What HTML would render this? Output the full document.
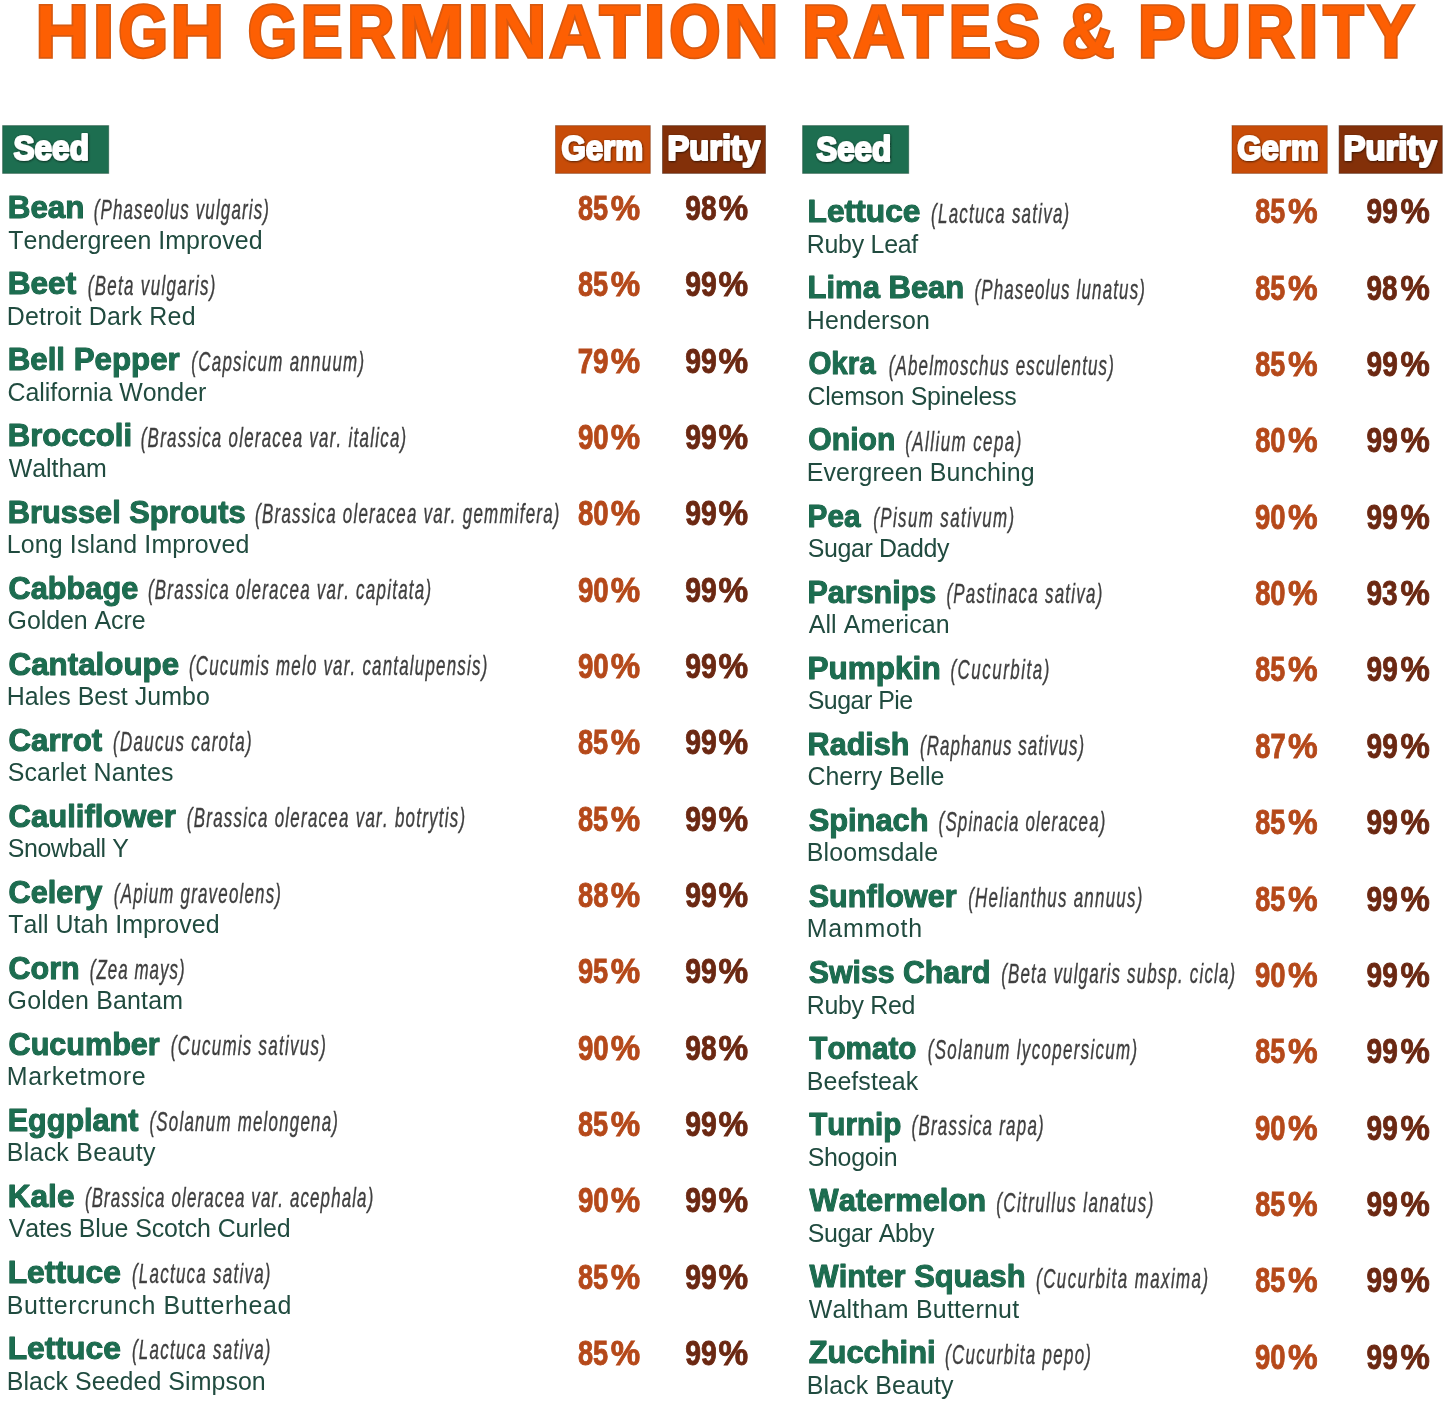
<!DOCTYPE html>
<html><head><meta charset="utf-8"><title>High Germination Rates &amp; Purity</title>
<style>
html,body{margin:0;padding:0;background:#fff;}
body{width:1445px;height:1401px;overflow:hidden;}
svg{display:block;}
text{font-family:"Liberation Sans",sans-serif;font-kerning:none;}
.b{font-weight:700;}
.i{font-style:italic;fill:#3f3f3f;stroke:#3f3f3f;stroke-width:0.40px;}
.r{font-weight:400;}
.t{fill:#fd5f03;stroke:#d9590f;stroke-width:3.50px;stroke-linejoin:miter;paint-order:stroke;}
.n{fill:#1c6d50;stroke:#145a40;stroke-width:1.00px;paint-order:stroke;stroke-linejoin:round;}
.v{fill:#204b3f;}
.h{fill:#fff;stroke:#fff;stroke-width:2.20px;stroke-linejoin:round;filter:url(#sh);}
.g{fill:#b5491a;stroke:#b5491a;stroke-width:0.90px;}
.p{fill:#6b2812;stroke:#6b2812;stroke-width:0.90px;}
</style></head><body>
<svg width="1445" height="1401" viewBox="0 0 1445 1401">
<defs><filter id="sh" x="-10%" y="-20%" width="120%" height="150%"><feDropShadow dx="0.5" dy="0.7" stdDeviation="0.8" flood-color="#000" flood-opacity="0.7"/></filter></defs>
<rect width="1445" height="1401" fill="#ffffff"/>
<text y="56.65" class="b t" style="font-size:75.00px"><tspan x="35.50" textLength="53.44" lengthAdjust="spacingAndGlyphs">H</tspan><tspan x="92.65" textLength="21.60" lengthAdjust="spacingAndGlyphs">I</tspan><tspan x="118.22" textLength="49.80" lengthAdjust="spacingAndGlyphs">G</tspan><tspan x="170.39" textLength="53.56" lengthAdjust="spacingAndGlyphs">H</tspan> <tspan x="247.85" textLength="49.33" lengthAdjust="spacingAndGlyphs">G</tspan><tspan x="300.66" textLength="41.73" lengthAdjust="spacingAndGlyphs">E</tspan><tspan x="347.29" textLength="47.10" lengthAdjust="spacingAndGlyphs">R</tspan><tspan x="399.09" textLength="65.52" lengthAdjust="spacingAndGlyphs">M</tspan><tspan x="467.55" textLength="21.60" lengthAdjust="spacingAndGlyphs">I</tspan><tspan x="492.34" textLength="54.05" lengthAdjust="spacingAndGlyphs">N</tspan><tspan x="549.19" textLength="51.13" lengthAdjust="spacingAndGlyphs">A</tspan><tspan x="599.51" textLength="40.35" lengthAdjust="spacingAndGlyphs">T</tspan><tspan x="643.41" textLength="22.18" lengthAdjust="spacingAndGlyphs">I</tspan><tspan x="669.35" textLength="51.27" lengthAdjust="spacingAndGlyphs">O</tspan><tspan x="723.98" textLength="54.79" lengthAdjust="spacingAndGlyphs">N</tspan> <tspan x="802.14" textLength="47.56" lengthAdjust="spacingAndGlyphs">R</tspan><tspan x="853.61" textLength="50.59" lengthAdjust="spacingAndGlyphs">A</tspan><tspan x="902.71" textLength="40.14" lengthAdjust="spacingAndGlyphs">T</tspan><tspan x="948.72" textLength="42.20" lengthAdjust="spacingAndGlyphs">E</tspan><tspan x="994.78" textLength="45.64" lengthAdjust="spacingAndGlyphs">S</tspan> <tspan x="1061.74" textLength="52.69" lengthAdjust="spacingAndGlyphs">&amp;</tspan> <tspan x="1137.65" textLength="47.85" lengthAdjust="spacingAndGlyphs">P</tspan><tspan x="1189.03" textLength="51.90" lengthAdjust="spacingAndGlyphs">U</tspan><tspan x="1245.98" textLength="48.24" lengthAdjust="spacingAndGlyphs">R</tspan><tspan x="1298.47" textLength="19.87" lengthAdjust="spacingAndGlyphs">I</tspan><tspan x="1323.21" textLength="40.35" lengthAdjust="spacingAndGlyphs">T</tspan><tspan x="1367.76" textLength="46.41" lengthAdjust="spacingAndGlyphs">Y</tspan></text>
<rect x="2.6" y="125.6" width="106.1" height="47.8" fill="#1d6e50" stroke="#0e3d2b" stroke-opacity="0.45" stroke-width="1"/>
<rect x="555.5" y="125.6" width="94.8" height="47.8" fill="#c84c08" stroke="#6a2a08" stroke-opacity="0.45" stroke-width="1"/>
<rect x="662.5" y="125.6" width="103.0" height="47.8" fill="#833009" stroke="#3a1405" stroke-opacity="0.45" stroke-width="1"/>
<rect x="802.6" y="125.6" width="106.1" height="47.8" fill="#1d6e50" stroke="#0e3d2b" stroke-opacity="0.45" stroke-width="1"/>
<rect x="1232.0" y="125.6" width="95.3" height="47.8" fill="#c84c08" stroke="#6a2a08" stroke-opacity="0.45" stroke-width="1"/>
<rect x="1339.1" y="125.6" width="103.2" height="47.8" fill="#833009" stroke="#3a1405" stroke-opacity="0.45" stroke-width="1"/>
<text x="13.49" y="160.40" textLength="75.49" lengthAdjust="spacingAndGlyphs" class="b h" style="font-size:34.30px;">Seed</text>
<text x="561.42" y="159.70" textLength="81.62" lengthAdjust="spacingAndGlyphs" class="b h" style="font-size:34.30px;">Germ</text>
<text x="667.62" y="159.70" textLength="92.46" lengthAdjust="spacingAndGlyphs" class="b h" style="font-size:34.30px;">Purity</text>
<text x="816.20" y="160.60" textLength="75.08" lengthAdjust="spacingAndGlyphs" class="b h" style="font-size:34.30px;">Seed</text>
<text x="1237.22" y="159.90" textLength="81.41" lengthAdjust="spacingAndGlyphs" class="b h" style="font-size:34.30px;">Germ</text>
<text x="1343.50" y="159.90" textLength="93.18" lengthAdjust="spacingAndGlyphs" class="b h" style="font-size:34.30px;">Purity</text>
<text x="7.70" y="218.30" textLength="76.85" lengthAdjust="spacingAndGlyphs" class="b n" style="font-size:31.80px;">Bean</text>
<text x="93.71" y="218.60" textLength="176.35" lengthAdjust="spacingAndGlyphs" class="i" style="font-size:27.30px;letter-spacing:1.856px">(Phaseolus vulgaris)</text>
<text x="8.24" y="248.80" textLength="254.30" lengthAdjust="spacingAndGlyphs" class="r v" style="font-size:25.70px;letter-spacing:0.037px">Tendergreen Improved</text>
<text y="219.95" class="b g" style="font-size:35.00px"><tspan x="577.99" textLength="30.22" lengthAdjust="spacingAndGlyphs">85</tspan><tspan x="610.73" textLength="29.39" lengthAdjust="spacingAndGlyphs">%</tspan></text>
<text y="219.95" class="b p" style="font-size:35.00px"><tspan x="685.28" textLength="31.24" lengthAdjust="spacingAndGlyphs">98</tspan><tspan x="718.62" textLength="29.61" lengthAdjust="spacingAndGlyphs">%</tspan></text>
<text x="7.69" y="294.35" textLength="68.50" lengthAdjust="spacingAndGlyphs" class="b n" style="font-size:31.80px;">Beet</text>
<text x="87.71" y="294.65" textLength="129.14" lengthAdjust="spacingAndGlyphs" class="i" style="font-size:27.30px;letter-spacing:2.152px">(Beta vulgaris)</text>
<text x="6.76" y="324.85" textLength="188.96" lengthAdjust="spacingAndGlyphs" class="r v" style="font-size:25.70px;letter-spacing:0.214px">Detroit Dark Red</text>
<text y="296.29" class="b g" style="font-size:35.00px"><tspan x="577.99" textLength="30.22" lengthAdjust="spacingAndGlyphs">85</tspan><tspan x="610.73" textLength="29.39" lengthAdjust="spacingAndGlyphs">%</tspan></text>
<text y="296.29" class="b p" style="font-size:35.00px"><tspan x="685.27" textLength="31.43" lengthAdjust="spacingAndGlyphs">99</tspan><tspan x="718.62" textLength="29.61" lengthAdjust="spacingAndGlyphs">%</tspan></text>
<text x="7.71" y="370.40" textLength="172.07" lengthAdjust="spacingAndGlyphs" class="b n" style="font-size:31.80px;">Bell Pepper</text>
<text x="191.31" y="370.70" textLength="174.08" lengthAdjust="spacingAndGlyphs" class="i" style="font-size:27.30px;letter-spacing:2.057px">(Capsicum annuum)</text>
<text x="7.53" y="400.90" textLength="198.73" lengthAdjust="spacingAndGlyphs" class="r v" style="font-size:25.70px;letter-spacing:-0.048px">California Wonder</text>
<text y="372.63" class="b g" style="font-size:35.00px"><tspan x="577.66" textLength="30.82" lengthAdjust="spacingAndGlyphs">79</tspan><tspan x="610.73" textLength="29.39" lengthAdjust="spacingAndGlyphs">%</tspan></text>
<text y="372.63" class="b p" style="font-size:35.00px"><tspan x="685.27" textLength="31.43" lengthAdjust="spacingAndGlyphs">99</tspan><tspan x="718.62" textLength="29.61" lengthAdjust="spacingAndGlyphs">%</tspan></text>
<text x="7.72" y="446.45" textLength="124.38" lengthAdjust="spacingAndGlyphs" class="b n" style="font-size:31.80px;">Broccoli</text>
<text x="140.71" y="446.75" textLength="266.75" lengthAdjust="spacingAndGlyphs" class="i" style="font-size:27.30px;letter-spacing:2.019px">(Brassica oleracea var. italica)</text>
<text x="8.69" y="476.95" textLength="98.12" lengthAdjust="spacingAndGlyphs" class="r v" style="font-size:25.70px;letter-spacing:-0.034px">Waltham</text>
<text y="448.97" class="b g" style="font-size:35.00px"><tspan x="577.89" textLength="30.69" lengthAdjust="spacingAndGlyphs">90</tspan><tspan x="610.73" textLength="29.39" lengthAdjust="spacingAndGlyphs">%</tspan></text>
<text y="448.97" class="b p" style="font-size:35.00px"><tspan x="685.27" textLength="31.43" lengthAdjust="spacingAndGlyphs">99</tspan><tspan x="718.62" textLength="29.61" lengthAdjust="spacingAndGlyphs">%</tspan></text>
<text x="7.74" y="522.50" textLength="237.82" lengthAdjust="spacingAndGlyphs" class="b n" style="font-size:31.80px;">Brussel Sprouts</text>
<text x="255.11" y="522.80" textLength="305.64" lengthAdjust="spacingAndGlyphs" class="i" style="font-size:27.30px;letter-spacing:2.005px">(Brassica oleracea var. gemmifera)</text>
<text x="6.76" y="553.00" textLength="242.70" lengthAdjust="spacingAndGlyphs" class="r v" style="font-size:25.70px;letter-spacing:0.152px">Long Island Improved</text>
<text y="525.31" class="b g" style="font-size:35.00px"><tspan x="577.98" textLength="30.60" lengthAdjust="spacingAndGlyphs">80</tspan><tspan x="610.73" textLength="29.39" lengthAdjust="spacingAndGlyphs">%</tspan></text>
<text y="525.31" class="b p" style="font-size:35.00px"><tspan x="685.27" textLength="31.43" lengthAdjust="spacingAndGlyphs">99</tspan><tspan x="718.62" textLength="29.61" lengthAdjust="spacingAndGlyphs">%</tspan></text>
<text x="8.54" y="598.55" textLength="129.71" lengthAdjust="spacingAndGlyphs" class="b n" style="font-size:31.80px;">Cabbage</text>
<text x="147.91" y="598.85" textLength="284.47" lengthAdjust="spacingAndGlyphs" class="i" style="font-size:27.30px;letter-spacing:2.041px">(Brassica oleracea var. capitata)</text>
<text x="7.55" y="629.05" textLength="138.01" lengthAdjust="spacingAndGlyphs" class="r v" style="font-size:25.70px;letter-spacing:-0.052px">Golden Acre</text>
<text y="601.65" class="b g" style="font-size:35.00px"><tspan x="577.89" textLength="30.69" lengthAdjust="spacingAndGlyphs">90</tspan><tspan x="610.73" textLength="29.39" lengthAdjust="spacingAndGlyphs">%</tspan></text>
<text y="601.65" class="b p" style="font-size:35.00px"><tspan x="685.27" textLength="31.43" lengthAdjust="spacingAndGlyphs">99</tspan><tspan x="718.62" textLength="29.61" lengthAdjust="spacingAndGlyphs">%</tspan></text>
<text x="8.51" y="674.60" textLength="170.66" lengthAdjust="spacingAndGlyphs" class="b n" style="font-size:31.80px;">Cantaloupe</text>
<text x="188.91" y="674.90" textLength="299.61" lengthAdjust="spacingAndGlyphs" class="i" style="font-size:27.30px;letter-spacing:1.954px">(Cucumis melo var. cantalupensis)</text>
<text x="6.76" y="705.10" textLength="203.04" lengthAdjust="spacingAndGlyphs" class="r v" style="font-size:25.70px;letter-spacing:0.048px">Hales Best Jumbo</text>
<text y="677.99" class="b g" style="font-size:35.00px"><tspan x="577.89" textLength="30.69" lengthAdjust="spacingAndGlyphs">90</tspan><tspan x="610.73" textLength="29.39" lengthAdjust="spacingAndGlyphs">%</tspan></text>
<text y="677.99" class="b p" style="font-size:35.00px"><tspan x="685.27" textLength="31.43" lengthAdjust="spacingAndGlyphs">99</tspan><tspan x="718.62" textLength="29.61" lengthAdjust="spacingAndGlyphs">%</tspan></text>
<text x="8.52" y="750.65" textLength="93.76" lengthAdjust="spacingAndGlyphs" class="b n" style="font-size:31.80px;">Carrot</text>
<text x="113.01" y="750.95" textLength="140.01" lengthAdjust="spacingAndGlyphs" class="i" style="font-size:27.30px;letter-spacing:2.108px">(Daucus carota)</text>
<text x="7.67" y="781.15" textLength="166.01" lengthAdjust="spacingAndGlyphs" class="r v" style="font-size:25.70px;letter-spacing:0.185px">Scarlet Nantes</text>
<text y="754.33" class="b g" style="font-size:35.00px"><tspan x="577.99" textLength="30.22" lengthAdjust="spacingAndGlyphs">85</tspan><tspan x="610.73" textLength="29.39" lengthAdjust="spacingAndGlyphs">%</tspan></text>
<text y="754.33" class="b p" style="font-size:35.00px"><tspan x="685.27" textLength="31.43" lengthAdjust="spacingAndGlyphs">99</tspan><tspan x="718.62" textLength="29.61" lengthAdjust="spacingAndGlyphs">%</tspan></text>
<text x="8.53" y="826.70" textLength="167.24" lengthAdjust="spacingAndGlyphs" class="b n" style="font-size:31.80px;">Cauliflower</text>
<text x="186.81" y="827.00" textLength="279.66" lengthAdjust="spacingAndGlyphs" class="i" style="font-size:27.30px;letter-spacing:2.037px">(Brassica oleracea var. botrytis)</text>
<text x="7.67" y="857.20" textLength="120.90" lengthAdjust="spacingAndGlyphs" class="r v" style="font-size:25.70px;letter-spacing:-0.394px">Snowball Y</text>
<text y="830.67" class="b g" style="font-size:35.00px"><tspan x="577.99" textLength="30.22" lengthAdjust="spacingAndGlyphs">85</tspan><tspan x="610.73" textLength="29.39" lengthAdjust="spacingAndGlyphs">%</tspan></text>
<text y="830.67" class="b p" style="font-size:35.00px"><tspan x="685.27" textLength="31.43" lengthAdjust="spacingAndGlyphs">99</tspan><tspan x="718.62" textLength="29.61" lengthAdjust="spacingAndGlyphs">%</tspan></text>
<text x="8.54" y="902.75" textLength="93.92" lengthAdjust="spacingAndGlyphs" class="b n" style="font-size:31.80px;">Celery</text>
<text x="113.81" y="903.05" textLength="168.40" lengthAdjust="spacingAndGlyphs" class="i" style="font-size:27.30px;letter-spacing:1.940px">(Apium graveolens)</text>
<text x="8.24" y="933.25" textLength="211.31" lengthAdjust="spacingAndGlyphs" class="r v" style="font-size:25.70px;letter-spacing:0.041px">Tall Utah Improved</text>
<text y="907.01" class="b g" style="font-size:35.00px"><tspan x="577.99" textLength="30.30" lengthAdjust="spacingAndGlyphs">88</tspan><tspan x="610.73" textLength="29.39" lengthAdjust="spacingAndGlyphs">%</tspan></text>
<text y="907.01" class="b p" style="font-size:35.00px"><tspan x="685.27" textLength="31.43" lengthAdjust="spacingAndGlyphs">99</tspan><tspan x="718.62" textLength="29.61" lengthAdjust="spacingAndGlyphs">%</tspan></text>
<text x="8.55" y="978.80" textLength="71.14" lengthAdjust="spacingAndGlyphs" class="b n" style="font-size:31.80px;">Corn</text>
<text x="89.71" y="979.10" textLength="95.94" lengthAdjust="spacingAndGlyphs" class="i" style="font-size:27.30px;letter-spacing:1.670px">(Zea mays)</text>
<text x="7.55" y="1009.30" textLength="175.69" lengthAdjust="spacingAndGlyphs" class="r v" style="font-size:25.70px;letter-spacing:0.195px">Golden Bantam</text>
<text y="983.35" class="b g" style="font-size:35.00px"><tspan x="577.91" textLength="30.30" lengthAdjust="spacingAndGlyphs">95</tspan><tspan x="610.73" textLength="29.39" lengthAdjust="spacingAndGlyphs">%</tspan></text>
<text y="983.35" class="b p" style="font-size:35.00px"><tspan x="685.27" textLength="31.43" lengthAdjust="spacingAndGlyphs">99</tspan><tspan x="718.62" textLength="29.61" lengthAdjust="spacingAndGlyphs">%</tspan></text>
<text x="8.55" y="1054.85" textLength="151.22" lengthAdjust="spacingAndGlyphs" class="b n" style="font-size:31.80px;">Cucumber</text>
<text x="170.81" y="1055.15" textLength="156.39" lengthAdjust="spacingAndGlyphs" class="i" style="font-size:27.30px;letter-spacing:2.078px">(Cucumis sativus)</text>
<text x="6.76" y="1085.35" textLength="139.50" lengthAdjust="spacingAndGlyphs" class="r v" style="font-size:25.70px;letter-spacing:0.672px">Marketmore</text>
<text y="1059.69" class="b g" style="font-size:35.00px"><tspan x="577.89" textLength="30.69" lengthAdjust="spacingAndGlyphs">90</tspan><tspan x="610.73" textLength="29.39" lengthAdjust="spacingAndGlyphs">%</tspan></text>
<text y="1059.69" class="b p" style="font-size:35.00px"><tspan x="685.28" textLength="31.24" lengthAdjust="spacingAndGlyphs">98</tspan><tspan x="718.62" textLength="29.61" lengthAdjust="spacingAndGlyphs">%</tspan></text>
<text x="7.76" y="1130.90" textLength="130.62" lengthAdjust="spacingAndGlyphs" class="b n" style="font-size:31.80px;">Eggplant</text>
<text x="149.51" y="1131.20" textLength="189.72" lengthAdjust="spacingAndGlyphs" class="i" style="font-size:27.30px;letter-spacing:1.969px">(Solanum melongena)</text>
<text x="6.76" y="1161.40" textLength="148.88" lengthAdjust="spacingAndGlyphs" class="r v" style="font-size:25.70px;letter-spacing:0.290px">Black Beauty</text>
<text y="1136.03" class="b g" style="font-size:35.00px"><tspan x="577.99" textLength="30.22" lengthAdjust="spacingAndGlyphs">85</tspan><tspan x="610.73" textLength="29.39" lengthAdjust="spacingAndGlyphs">%</tspan></text>
<text y="1136.03" class="b p" style="font-size:35.00px"><tspan x="685.27" textLength="31.43" lengthAdjust="spacingAndGlyphs">99</tspan><tspan x="718.62" textLength="29.61" lengthAdjust="spacingAndGlyphs">%</tspan></text>
<text x="7.68" y="1206.95" textLength="66.80" lengthAdjust="spacingAndGlyphs" class="b n" style="font-size:31.80px;">Kale</text>
<text x="84.91" y="1207.25" textLength="289.54" lengthAdjust="spacingAndGlyphs" class="i" style="font-size:27.30px;letter-spacing:1.828px">(Brassica oleracea var. acephala)</text>
<text x="8.69" y="1237.45" textLength="281.82" lengthAdjust="spacingAndGlyphs" class="r v" style="font-size:25.70px;letter-spacing:-0.096px">Vates Blue Scotch Curled</text>
<text y="1212.37" class="b g" style="font-size:35.00px"><tspan x="577.89" textLength="30.69" lengthAdjust="spacingAndGlyphs">90</tspan><tspan x="610.73" textLength="29.39" lengthAdjust="spacingAndGlyphs">%</tspan></text>
<text y="1212.37" class="b p" style="font-size:35.00px"><tspan x="685.27" textLength="31.43" lengthAdjust="spacingAndGlyphs">99</tspan><tspan x="718.62" textLength="29.61" lengthAdjust="spacingAndGlyphs">%</tspan></text>
<text x="7.67" y="1283.00" textLength="113.32" lengthAdjust="spacingAndGlyphs" class="b n" style="font-size:31.80px;">Lettuce</text>
<text x="131.91" y="1283.30" textLength="139.88" lengthAdjust="spacingAndGlyphs" class="i" style="font-size:27.30px;letter-spacing:2.057px">(Lactuca sativa)</text>
<text x="6.76" y="1313.50" textLength="285.31" lengthAdjust="spacingAndGlyphs" class="r v" style="font-size:25.70px;letter-spacing:0.676px">Buttercrunch Butterhead</text>
<text y="1288.71" class="b g" style="font-size:35.00px"><tspan x="577.99" textLength="30.22" lengthAdjust="spacingAndGlyphs">85</tspan><tspan x="610.73" textLength="29.39" lengthAdjust="spacingAndGlyphs">%</tspan></text>
<text y="1288.71" class="b p" style="font-size:35.00px"><tspan x="685.27" textLength="31.43" lengthAdjust="spacingAndGlyphs">99</tspan><tspan x="718.62" textLength="29.61" lengthAdjust="spacingAndGlyphs">%</tspan></text>
<text x="7.67" y="1359.05" textLength="113.32" lengthAdjust="spacingAndGlyphs" class="b n" style="font-size:31.80px;">Lettuce</text>
<text x="131.91" y="1359.35" textLength="139.88" lengthAdjust="spacingAndGlyphs" class="i" style="font-size:27.30px;letter-spacing:2.057px">(Lactuca sativa)</text>
<text x="6.76" y="1389.55" textLength="259.03" lengthAdjust="spacingAndGlyphs" class="r v" style="font-size:25.70px;letter-spacing:0.066px">Black Seeded Simpson</text>
<text y="1365.05" class="b g" style="font-size:35.00px"><tspan x="577.99" textLength="30.22" lengthAdjust="spacingAndGlyphs">85</tspan><tspan x="610.73" textLength="29.39" lengthAdjust="spacingAndGlyphs">%</tspan></text>
<text y="1365.05" class="b p" style="font-size:35.00px"><tspan x="685.27" textLength="31.43" lengthAdjust="spacingAndGlyphs">99</tspan><tspan x="718.62" textLength="29.61" lengthAdjust="spacingAndGlyphs">%</tspan></text>
<text x="807.47" y="222.20" textLength="113.01" lengthAdjust="spacingAndGlyphs" class="b n" style="font-size:31.80px;">Lettuce</text>
<text x="931.11" y="222.50" textLength="139.34" lengthAdjust="spacingAndGlyphs" class="i" style="font-size:27.30px;letter-spacing:2.003px">(Lactuca sativa)</text>
<text x="806.76" y="252.70" textLength="111.24" lengthAdjust="spacingAndGlyphs" class="r v" style="font-size:25.70px;letter-spacing:-0.275px">Ruby Leaf</text>
<text y="223.45" class="b g" style="font-size:35.00px"><tspan x="1255.19" textLength="30.01" lengthAdjust="spacingAndGlyphs">85</tspan><tspan x="1287.92" textLength="29.61" lengthAdjust="spacingAndGlyphs">%</tspan></text>
<text y="223.45" class="b p" style="font-size:35.00px"><tspan x="1366.58" textLength="31.11" lengthAdjust="spacingAndGlyphs">99</tspan><tspan x="1400.43" textLength="29.29" lengthAdjust="spacingAndGlyphs">%</tspan></text>
<text x="807.53" y="298.28" textLength="156.80" lengthAdjust="spacingAndGlyphs" class="b n" style="font-size:31.80px;">Lima Bean</text>
<text x="974.41" y="298.58" textLength="171.66" lengthAdjust="spacingAndGlyphs" class="i" style="font-size:27.30px;letter-spacing:1.873px">(Phaseolus lunatus)</text>
<text x="806.76" y="328.78" textLength="123.32" lengthAdjust="spacingAndGlyphs" class="r v" style="font-size:25.70px;letter-spacing:0.156px">Henderson</text>
<text y="299.79" class="b g" style="font-size:35.00px"><tspan x="1255.19" textLength="30.01" lengthAdjust="spacingAndGlyphs">85</tspan><tspan x="1287.92" textLength="29.61" lengthAdjust="spacingAndGlyphs">%</tspan></text>
<text y="299.79" class="b p" style="font-size:35.00px"><tspan x="1366.59" textLength="30.92" lengthAdjust="spacingAndGlyphs">98</tspan><tspan x="1400.43" textLength="29.29" lengthAdjust="spacingAndGlyphs">%</tspan></text>
<text x="808.39" y="374.36" textLength="67.22" lengthAdjust="spacingAndGlyphs" class="b n" style="font-size:31.80px;">Okra</text>
<text x="888.81" y="374.66" textLength="226.15" lengthAdjust="spacingAndGlyphs" class="i" style="font-size:27.30px;letter-spacing:1.858px">(Abelmoschus esculentus)</text>
<text x="807.53" y="404.86" textLength="208.90" lengthAdjust="spacingAndGlyphs" class="r v" style="font-size:25.70px;letter-spacing:-0.272px">Clemson Spineless</text>
<text y="376.13" class="b g" style="font-size:35.00px"><tspan x="1255.19" textLength="30.01" lengthAdjust="spacingAndGlyphs">85</tspan><tspan x="1287.92" textLength="29.61" lengthAdjust="spacingAndGlyphs">%</tspan></text>
<text y="376.13" class="b p" style="font-size:35.00px"><tspan x="1366.58" textLength="31.11" lengthAdjust="spacingAndGlyphs">99</tspan><tspan x="1400.43" textLength="29.29" lengthAdjust="spacingAndGlyphs">%</tspan></text>
<text x="808.36" y="450.44" textLength="87.00" lengthAdjust="spacingAndGlyphs" class="b n" style="font-size:31.80px;">Onion</text>
<text x="905.31" y="450.74" textLength="117.44" lengthAdjust="spacingAndGlyphs" class="i" style="font-size:27.30px;letter-spacing:2.317px">(Allium cepa)</text>
<text x="806.76" y="480.94" textLength="227.86" lengthAdjust="spacingAndGlyphs" class="r v" style="font-size:25.70px;letter-spacing:0.113px">Evergreen Bunching</text>
<text y="452.47" class="b g" style="font-size:35.00px"><tspan x="1255.18" textLength="30.39" lengthAdjust="spacingAndGlyphs">80</tspan><tspan x="1287.92" textLength="29.61" lengthAdjust="spacingAndGlyphs">%</tspan></text>
<text y="452.47" class="b p" style="font-size:35.00px"><tspan x="1366.58" textLength="31.11" lengthAdjust="spacingAndGlyphs">99</tspan><tspan x="1400.43" textLength="29.29" lengthAdjust="spacingAndGlyphs">%</tspan></text>
<text x="807.61" y="526.52" textLength="53.00" lengthAdjust="spacingAndGlyphs" class="b n" style="font-size:31.80px;">Pea</text>
<text x="873.21" y="526.82" textLength="142.30" lengthAdjust="spacingAndGlyphs" class="i" style="font-size:27.30px;letter-spacing:2.256px">(Pisum sativum)</text>
<text x="807.67" y="557.02" textLength="141.52" lengthAdjust="spacingAndGlyphs" class="r v" style="font-size:25.70px;letter-spacing:-0.374px">Sugar Daddy</text>
<text y="528.81" class="b g" style="font-size:35.00px"><tspan x="1255.10" textLength="30.47" lengthAdjust="spacingAndGlyphs">90</tspan><tspan x="1287.92" textLength="29.61" lengthAdjust="spacingAndGlyphs">%</tspan></text>
<text y="528.81" class="b p" style="font-size:35.00px"><tspan x="1366.58" textLength="31.11" lengthAdjust="spacingAndGlyphs">99</tspan><tspan x="1400.43" textLength="29.29" lengthAdjust="spacingAndGlyphs">%</tspan></text>
<text x="807.56" y="602.60" textLength="128.69" lengthAdjust="spacingAndGlyphs" class="b n" style="font-size:31.80px;">Parsnips</text>
<text x="946.41" y="602.90" textLength="157.16" lengthAdjust="spacingAndGlyphs" class="i" style="font-size:27.30px;letter-spacing:2.028px">(Pastinaca sativa)</text>
<text x="808.75" y="633.10" textLength="140.84" lengthAdjust="spacingAndGlyphs" class="r v" style="font-size:25.70px;letter-spacing:0.079px">All American</text>
<text y="605.15" class="b g" style="font-size:35.00px"><tspan x="1255.18" textLength="30.39" lengthAdjust="spacingAndGlyphs">80</tspan><tspan x="1287.92" textLength="29.61" lengthAdjust="spacingAndGlyphs">%</tspan></text>
<text y="605.15" class="b p" style="font-size:35.00px"><tspan x="1366.58" textLength="31.08" lengthAdjust="spacingAndGlyphs">93</tspan><tspan x="1400.43" textLength="29.29" lengthAdjust="spacingAndGlyphs">%</tspan></text>
<text x="807.49" y="678.68" textLength="133.17" lengthAdjust="spacingAndGlyphs" class="b n" style="font-size:31.80px;">Pumpkin</text>
<text x="950.41" y="678.98" textLength="100.42" lengthAdjust="spacingAndGlyphs" class="i" style="font-size:27.30px;letter-spacing:2.450px">(Cucurbita)</text>
<text x="807.67" y="709.18" textLength="105.05" lengthAdjust="spacingAndGlyphs" class="r v" style="font-size:25.70px;letter-spacing:-0.508px">Sugar Pie</text>
<text y="681.49" class="b g" style="font-size:35.00px"><tspan x="1255.19" textLength="30.01" lengthAdjust="spacingAndGlyphs">85</tspan><tspan x="1287.92" textLength="29.61" lengthAdjust="spacingAndGlyphs">%</tspan></text>
<text y="681.49" class="b p" style="font-size:35.00px"><tspan x="1366.58" textLength="31.11" lengthAdjust="spacingAndGlyphs">99</tspan><tspan x="1400.43" textLength="29.29" lengthAdjust="spacingAndGlyphs">%</tspan></text>
<text x="807.55" y="754.76" textLength="101.94" lengthAdjust="spacingAndGlyphs" class="b n" style="font-size:31.80px;">Radish</text>
<text x="919.91" y="755.06" textLength="165.39" lengthAdjust="spacingAndGlyphs" class="i" style="font-size:27.30px;letter-spacing:1.753px">(Raphanus sativus)</text>
<text x="807.53" y="785.26" textLength="136.85" lengthAdjust="spacingAndGlyphs" class="r v" style="font-size:25.70px;letter-spacing:-0.027px">Cherry Belle</text>
<text y="757.83" class="b g" style="font-size:35.00px"><tspan x="1255.18" textLength="30.47" lengthAdjust="spacingAndGlyphs">87</tspan><tspan x="1287.92" textLength="29.61" lengthAdjust="spacingAndGlyphs">%</tspan></text>
<text y="757.83" class="b p" style="font-size:35.00px"><tspan x="1366.58" textLength="31.11" lengthAdjust="spacingAndGlyphs">99</tspan><tspan x="1400.43" textLength="29.29" lengthAdjust="spacingAndGlyphs">%</tspan></text>
<text x="808.71" y="830.84" textLength="119.80" lengthAdjust="spacingAndGlyphs" class="b n" style="font-size:31.80px;">Spinach</text>
<text x="938.61" y="831.14" textLength="167.97" lengthAdjust="spacingAndGlyphs" class="i" style="font-size:27.30px;letter-spacing:1.879px">(Spinacia oleracea)</text>
<text x="806.76" y="861.34" textLength="131.47" lengthAdjust="spacingAndGlyphs" class="r v" style="font-size:25.70px;letter-spacing:0.126px">Bloomsdale</text>
<text y="834.17" class="b g" style="font-size:35.00px"><tspan x="1255.19" textLength="30.01" lengthAdjust="spacingAndGlyphs">85</tspan><tspan x="1287.92" textLength="29.61" lengthAdjust="spacingAndGlyphs">%</tspan></text>
<text y="834.17" class="b p" style="font-size:35.00px"><tspan x="1366.58" textLength="31.11" lengthAdjust="spacingAndGlyphs">99</tspan><tspan x="1400.43" textLength="29.29" lengthAdjust="spacingAndGlyphs">%</tspan></text>
<text x="808.72" y="906.92" textLength="147.84" lengthAdjust="spacingAndGlyphs" class="b n" style="font-size:31.80px;">Sunflower</text>
<text x="968.21" y="907.22" textLength="175.46" lengthAdjust="spacingAndGlyphs" class="i" style="font-size:27.30px;letter-spacing:2.036px">(Helianthus annuus)</text>
<text x="806.76" y="937.42" textLength="116.12" lengthAdjust="spacingAndGlyphs" class="r v" style="font-size:25.70px;letter-spacing:0.781px">Mammoth</text>
<text y="910.51" class="b g" style="font-size:35.00px"><tspan x="1255.19" textLength="30.01" lengthAdjust="spacingAndGlyphs">85</tspan><tspan x="1287.92" textLength="29.61" lengthAdjust="spacingAndGlyphs">%</tspan></text>
<text y="910.51" class="b p" style="font-size:35.00px"><tspan x="1366.58" textLength="31.11" lengthAdjust="spacingAndGlyphs">99</tspan><tspan x="1400.43" textLength="29.29" lengthAdjust="spacingAndGlyphs">%</tspan></text>
<text x="808.73" y="983.00" textLength="181.77" lengthAdjust="spacingAndGlyphs" class="b n" style="font-size:31.80px;">Swiss Chard</text>
<text x="1001.21" y="983.30" textLength="235.18" lengthAdjust="spacingAndGlyphs" class="i" style="font-size:27.30px;letter-spacing:1.897px">(Beta vulgaris subsp. cicla)</text>
<text x="806.76" y="1013.50" textLength="108.22" lengthAdjust="spacingAndGlyphs" class="r v" style="font-size:25.70px;letter-spacing:-0.339px">Ruby Red</text>
<text y="986.85" class="b g" style="font-size:35.00px"><tspan x="1255.10" textLength="30.47" lengthAdjust="spacingAndGlyphs">90</tspan><tspan x="1287.92" textLength="29.61" lengthAdjust="spacingAndGlyphs">%</tspan></text>
<text y="986.85" class="b p" style="font-size:35.00px"><tspan x="1366.58" textLength="31.11" lengthAdjust="spacingAndGlyphs">99</tspan><tspan x="1400.43" textLength="29.29" lengthAdjust="spacingAndGlyphs">%</tspan></text>
<text x="809.27" y="1059.08" textLength="107.19" lengthAdjust="spacingAndGlyphs" class="b n" style="font-size:31.80px;">Tomato</text>
<text x="927.71" y="1059.38" textLength="210.73" lengthAdjust="spacingAndGlyphs" class="i" style="font-size:27.30px;letter-spacing:2.140px">(Solanum lycopersicum)</text>
<text x="806.76" y="1089.58" textLength="111.59" lengthAdjust="spacingAndGlyphs" class="r v" style="font-size:25.70px;letter-spacing:0.083px">Beefsteak</text>
<text y="1063.19" class="b g" style="font-size:35.00px"><tspan x="1255.19" textLength="30.01" lengthAdjust="spacingAndGlyphs">85</tspan><tspan x="1287.92" textLength="29.61" lengthAdjust="spacingAndGlyphs">%</tspan></text>
<text y="1063.19" class="b p" style="font-size:35.00px"><tspan x="1366.58" textLength="31.11" lengthAdjust="spacingAndGlyphs">99</tspan><tspan x="1400.43" textLength="29.29" lengthAdjust="spacingAndGlyphs">%</tspan></text>
<text x="809.27" y="1135.16" textLength="92.05" lengthAdjust="spacingAndGlyphs" class="b n" style="font-size:31.80px;">Turnip</text>
<text x="911.51" y="1135.46" textLength="133.45" lengthAdjust="spacingAndGlyphs" class="i" style="font-size:27.30px;letter-spacing:2.010px">(Brassica rapa)</text>
<text x="807.67" y="1165.66" textLength="89.58" lengthAdjust="spacingAndGlyphs" class="r v" style="font-size:25.70px;letter-spacing:-0.281px">Shogoin</text>
<text y="1139.53" class="b g" style="font-size:35.00px"><tspan x="1255.10" textLength="30.47" lengthAdjust="spacingAndGlyphs">90</tspan><tspan x="1287.92" textLength="29.61" lengthAdjust="spacingAndGlyphs">%</tspan></text>
<text y="1139.53" class="b p" style="font-size:35.00px"><tspan x="1366.58" textLength="31.11" lengthAdjust="spacingAndGlyphs">99</tspan><tspan x="1400.43" textLength="29.29" lengthAdjust="spacingAndGlyphs">%</tspan></text>
<text x="809.57" y="1211.24" textLength="176.54" lengthAdjust="spacingAndGlyphs" class="b n" style="font-size:31.80px;">Watermelon</text>
<text x="996.21" y="1211.54" textLength="158.51" lengthAdjust="spacingAndGlyphs" class="i" style="font-size:27.30px;letter-spacing:2.277px">(Citrullus lanatus)</text>
<text x="807.67" y="1241.74" textLength="126.50" lengthAdjust="spacingAndGlyphs" class="r v" style="font-size:25.70px;letter-spacing:-0.388px">Sugar Abby</text>
<text y="1215.87" class="b g" style="font-size:35.00px"><tspan x="1255.19" textLength="30.01" lengthAdjust="spacingAndGlyphs">85</tspan><tspan x="1287.92" textLength="29.61" lengthAdjust="spacingAndGlyphs">%</tspan></text>
<text y="1215.87" class="b p" style="font-size:35.00px"><tspan x="1366.58" textLength="31.11" lengthAdjust="spacingAndGlyphs">99</tspan><tspan x="1400.43" textLength="29.29" lengthAdjust="spacingAndGlyphs">%</tspan></text>
<text x="809.57" y="1287.32" textLength="216.04" lengthAdjust="spacingAndGlyphs" class="b n" style="font-size:31.80px;">Winter Squash</text>
<text x="1036.11" y="1287.62" textLength="173.43" lengthAdjust="spacingAndGlyphs" class="i" style="font-size:27.30px;letter-spacing:2.309px">(Cucurbita maxima)</text>
<text x="808.69" y="1317.82" textLength="210.64" lengthAdjust="spacingAndGlyphs" class="r v" style="font-size:25.70px;letter-spacing:0.254px">Waltham Butternut</text>
<text y="1292.21" class="b g" style="font-size:35.00px"><tspan x="1255.19" textLength="30.01" lengthAdjust="spacingAndGlyphs">85</tspan><tspan x="1287.92" textLength="29.61" lengthAdjust="spacingAndGlyphs">%</tspan></text>
<text y="1292.21" class="b p" style="font-size:35.00px"><tspan x="1366.58" textLength="31.11" lengthAdjust="spacingAndGlyphs">99</tspan><tspan x="1400.43" textLength="29.29" lengthAdjust="spacingAndGlyphs">%</tspan></text>
<text x="808.68" y="1363.40" textLength="126.90" lengthAdjust="spacingAndGlyphs" class="b n" style="font-size:31.80px;">Zucchini</text>
<text x="945.11" y="1363.70" textLength="147.22" lengthAdjust="spacingAndGlyphs" class="i" style="font-size:27.30px;letter-spacing:2.133px">(Cucurbita pepo)</text>
<text x="806.76" y="1393.90" textLength="146.91" lengthAdjust="spacingAndGlyphs" class="r v" style="font-size:25.70px;letter-spacing:0.122px">Black Beauty</text>
<text y="1368.55" class="b g" style="font-size:35.00px"><tspan x="1255.10" textLength="30.47" lengthAdjust="spacingAndGlyphs">90</tspan><tspan x="1287.92" textLength="29.61" lengthAdjust="spacingAndGlyphs">%</tspan></text>
<text y="1368.55" class="b p" style="font-size:35.00px"><tspan x="1366.58" textLength="31.11" lengthAdjust="spacingAndGlyphs">99</tspan><tspan x="1400.43" textLength="29.29" lengthAdjust="spacingAndGlyphs">%</tspan></text>
</svg>
</body></html>
